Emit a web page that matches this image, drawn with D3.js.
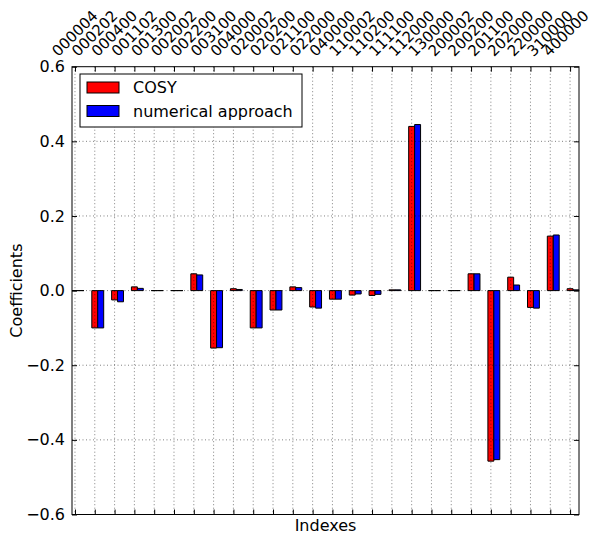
<!DOCTYPE html>
<html>
<head>
<meta charset="utf-8">
<script src="https://cdn.jsdelivr.net/npm/d3@7"></script>
<style>
  html, body { margin: 0; padding: 0; background: #fff; }
  svg { display: block; font-family: "DejaVu Sans", sans-serif; }
</style>
</head>
<body>
<svg id="chart" width="593" height="535"></svg>
<script>
// ---- data ----
const labels = ["000004","000202","000400","001102","001300","002002","002200","003100",
  "004000","020002","020200","021100","022000","040000","110002","110200","111100",
  "112000","130000","200002","200200","201100","202000","220000","310000","400000"];
const cosy = [0.000,-0.100,-0.025,0.010,0.000,0.000,0.045,-0.154,0.005,-0.100,-0.052,0.010,
  -0.044,-0.023,-0.012,-0.013,0.002,0.440,0.000,0.000,0.045,-0.457,0.036,-0.045,0.146,0.005];
const numerical = [0.000,-0.100,-0.030,0.006,0.000,0.000,0.042,-0.153,0.003,-0.100,-0.052,0.008,
  -0.047,-0.023,-0.009,-0.010,0.002,0.445,0.000,0.000,0.045,-0.453,0.015,-0.047,0.149,0.002];
const yTicks = [-0.6,-0.4,-0.2,0.0,0.2,0.4,0.6];
const seriesNames = ["COSY","numerical approach"];
const seriesColors = ["#ff0000","#0000ff"];

// ---- layout ----
const L = 72, R = 579, T = 66.7, B = 514.5;
const barW = 0.3;
const svg = d3.select("#chart");
const x = d3.scaleLinear().domain([-0.15, 25.45]).range([L, R]);
const y = d3.scaleLinear().domain([-0.6, 0.6]).range([B, T]);
const idx = d3.range(labels.length);

// background
svg.append("rect").attr("x", L).attr("y", T).attr("width", R - L).attr("height", B - T).attr("fill", "#fff");

// bars (as paths so zero-height bars still show their edge)
const plot = svg.append("g");
[cosy, numerical].forEach((vals, s) => {
  plot.selectAll(null).data(idx).enter().append("path")
    .attr("d", i => {
      const x0 = x(i - barW / 2 + s * barW), x1 = x(i + barW / 2 + s * barW);
      const y0 = y(0), y1 = y(vals[i]);
      return `M${x0},${y0}L${x1},${y0}L${x1},${y1}L${x0},${y1}Z`;
    })
    .attr("fill", seriesColors[s])
    .attr("stroke", "#000").attr("stroke-width", 1);
});

// grid (drawn on top, dotted)
const grid = svg.append("g").attr("stroke", "#000").attr("stroke-width", 0.7)
  .attr("stroke-dasharray", "1,2.5").attr("opacity", 0.7);
grid.selectAll(null).data(idx).enter().append("line")
  .attr("x1", i => x(i)).attr("x2", i => x(i)).attr("y1", T).attr("y2", B);
grid.selectAll(null).data(yTicks.slice(1, -1)).enter().append("line")
  .attr("x1", L).attr("x2", R).attr("y1", d => y(d)).attr("y2", d => y(d));

// axes (ticks inside)
const axL = d3.axisLeft(y).tickValues(yTicks).tickSizeInner(-5).tickSizeOuter(0).tickPadding(7)
  .tickFormat(d => d3.format(".1f")(d).replace("-", "\u2212"));
const gL = svg.append("g").attr("transform", `translate(${L},0)`).call(axL);
gL.selectAll("text").attr("font-size", 16).attr("font-family", "DejaVu Sans").attr("fill", "#000");
const axR = d3.axisRight(y).tickValues(yTicks).tickSizeInner(-5).tickSizeOuter(0).tickFormat("");
svg.append("g").attr("transform", `translate(${R},0)`).call(axR);
const axB = d3.axisBottom(x).tickValues(idx).tickSizeInner(-5).tickSizeOuter(0).tickFormat("");
svg.append("g").attr("transform", `translate(0,${B})`).call(axB);
const axT = d3.axisTop(x).tickValues(idx).tickSizeInner(-5).tickSizeOuter(0).tickFormat("");
svg.append("g").attr("transform", `translate(0,${T})`).call(axT);
svg.selectAll(".domain").remove();
svg.selectAll(".tick line").attr("stroke", "#000").attr("stroke-width", 1);

// top rotated labels
const fsTop = 15, hTop = fsTop * 1.17, bottomY = 60;
const tl = svg.append("g").selectAll(null).data(idx).enter().append("text")
  .attr("font-size", fsTop).attr("text-anchor", "middle").attr("dominant-baseline", "central")
  .attr("fill", "#000").text(i => labels[i]);
tl.each(function(i) {
  const w = this.getComputedTextLength();
  const half = (w + hTop) * Math.SQRT1_2 / 2;
  const cx = Math.min(x(i), 593 - half - 0.5), cy = bottomY - half;
  d3.select(this).attr("x", cx).attr("y", cy).attr("transform", `rotate(-45,${cx},${cy})`);
});

// frame
svg.append("rect").attr("x", L).attr("y", T).attr("width", R - L).attr("height", B - T)
  .attr("fill", "none").attr("stroke", "#000").attr("stroke-width", 1);

// axis titles
svg.append("text").attr("x", (L + R) / 2).attr("y", 531).attr("text-anchor", "middle")
  .attr("font-size", 16).text("Indexes");
svg.append("text").attr("transform", `translate(22,${(T + B) / 2}) rotate(-90)`)
  .attr("text-anchor", "middle").attr("font-size", 16).text("Coefficients");

// legend
const lg = svg.append("g");
lg.append("rect").attr("x", 80).attr("y", 74).attr("width", 222).attr("height", 53)
  .attr("fill", "#fff").attr("stroke", "#000").attr("stroke-width", 1);
seriesNames.forEach((n, s) => {
  lg.append("rect").attr("x", 87).attr("y", 82 + s * 23.5).attr("width", 32).attr("height", 11)
    .attr("fill", seriesColors[s]).attr("stroke", "#000").attr("stroke-width", 1);
  lg.append("text").attr("x", 133).attr("y", 93 + s * 24).attr("font-size", 16).text(n);
});
</script>
</body>
</html>
